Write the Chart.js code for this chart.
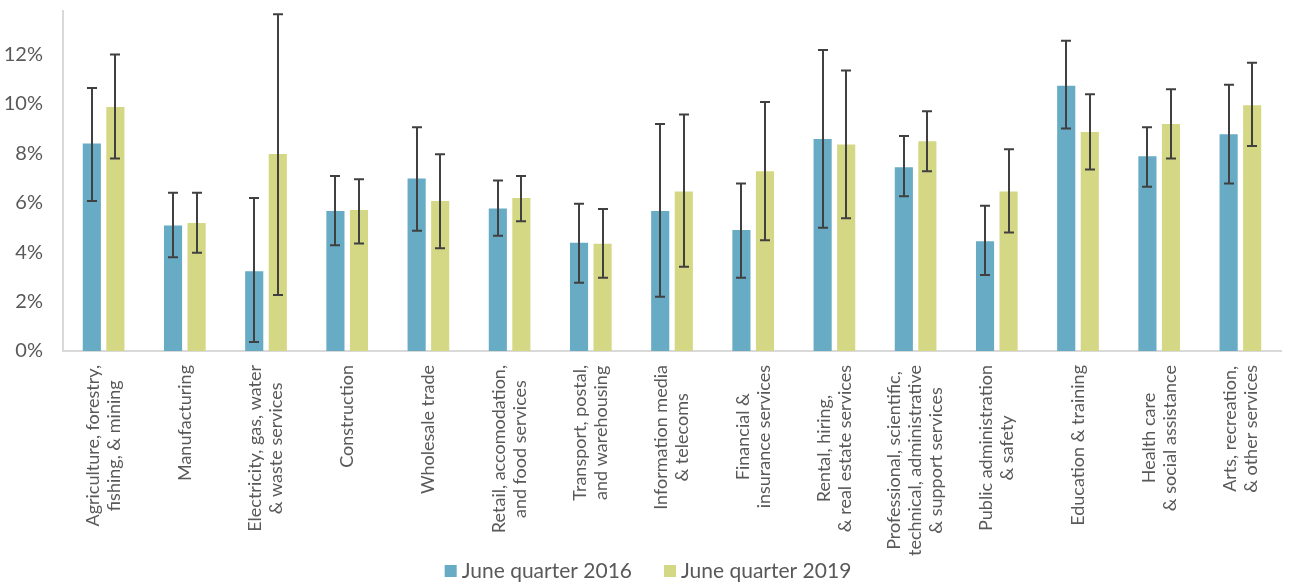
<!DOCTYPE html>
<html>
<head>
<meta charset="utf-8">
<script src="https://cdn.jsdelivr.net/npm/chart.js@4.4.1/dist/chart.umd.min.js"></script>
<style>
  html, body { margin: 0; padding: 0; background: #ffffff; }
  #c { display: block; }
</style>
</head>
<body>
<canvas id="c" width="1290" height="583"></canvas>
<script>
// ---- Data ----
const categories = [
  ["Agriculture, forestry,", "fishing, & mining"],
  ["Manufacturing"],
  ["Electricity, gas, water", "& waste services"],
  ["Construction"],
  ["Wholesale trade"],
  ["Retail, accomodation,", "and food services"],
  ["Transport, postal,", "and warehousing"],
  ["Information media", "& telecoms"],
  ["Financial &", "insurance services"],
  ["Rental, hiring,", "& real estate services"],
  ["Professional, scientific,", "technical, administrative", "& support services"],
  ["Public administration", "& safety"],
  ["Education & training"],
  ["Health care", "& social assistance"],
  ["Arts, recreation,", "& other services"]
];
const seriesNames = ["June quarter 2016", "June quarter 2019"];
const values2016 = [8.39, 5.08, 3.23, 5.66, 6.98, 5.76, 4.38, 5.66, 4.89, 8.57, 7.43, 4.44, 10.73, 7.88, 8.77];
const high2016   = [10.64, 6.40, 6.19, 7.08, 9.05, 6.90, 5.95, 9.18, 6.77, 12.17, 8.69, 5.87, 12.55, 9.05, 10.77];
const low2016    = [6.07, 3.79, 0.36, 4.28, 4.86, 4.66, 2.76, 2.19, 2.96, 4.98, 6.26, 3.07, 9.00, 6.64, 6.77];
const values2019 = [9.87, 5.18, 7.97, 5.70, 6.07, 6.19, 4.34, 6.45, 7.27, 8.35, 8.48, 6.45, 8.86, 9.18, 9.94];
const high2019   = [11.99, 6.40, 13.62, 6.95, 7.96, 7.08, 5.74, 9.56, 10.07, 11.34, 9.70, 8.16, 10.38, 10.59, 11.66];
const low2019    = [7.78, 3.97, 2.26, 4.35, 4.16, 5.25, 2.96, 3.41, 4.48, 5.37, 7.27, 4.79, 7.34, 7.78, 8.29];
const yTickStep = 2;
const yMax = 13.75;

// ---- Styles ----
const colors = ["#67abc4", "#d4d784"];
const FONT = "Lato, 'Open Sans', sans-serif";
const textColor = "#595959";

const errorBars = [
  { high: high2016, low: low2016 },
  { high: high2019, low: low2019 }
];

const errorBarPlugin = {
  id: "errorBars",
  afterDatasetsDraw(chart) {
    const ctx = chart.ctx;
    const y = chart.scales.y;
    ctx.save();
    ctx.strokeStyle = "#404040";
    ctx.lineWidth = 2;
    errorBars.forEach((eb, d) => {
      const meta = chart.getDatasetMeta(d);
      meta.data.forEach((el, i) => {
        const x = Math.round(el.x);
        const yh = y.getPixelForValue(eb.high[i]);
        const yl = y.getPixelForValue(eb.low[i]);
        ctx.beginPath();
        ctx.moveTo(x, yh); ctx.lineTo(x, yl);
        ctx.moveTo(x - 5, yh); ctx.lineTo(x + 5, yh);
        ctx.moveTo(x - 5, yl); ctx.lineTo(x + 5, yl);
        ctx.stroke();
      });
    });
    ctx.restore();
  }
};

const categoryLabelPlugin = {
  id: "categoryLabels",
  afterDraw(chart) {
    const ctx = chart.ctx;
    const xs = chart.scales.x;
    const top = chart.chartArea.bottom + 14;
    const lineH = 21;
    ctx.save();
    ctx.font = "18px " + FONT;
    ctx.fillStyle = textColor;
    ctx.textAlign = "center";
    ctx.textBaseline = "middle";
    categories.forEach((lines, i) => {
      const cx = xs.getPixelForValue(i);
      const maxW = Math.max(...lines.map(l => ctx.measureText(l).width));
      ctx.save();
      ctx.translate(cx, top);
      ctx.rotate(-Math.PI / 2);
      lines.forEach((l, k) => {
        ctx.fillText(l, -maxW / 2, (k - (lines.length - 1) / 2) * lineH);
      });
      ctx.restore();
    });
    ctx.restore();
  }
};

const legendPlugin = {
  id: "customLegend",
  afterDraw(chart) {
    const ctx = chart.ctx;
    ctx.save();
    ctx.font = "21px " + FONT;
    const box = 12, gap = 5, between = 32;
    const widths = seriesNames.map(n => ctx.measureText(n).width);
    const total = widths.reduce((a, w) => a + box + gap + w, 0) + between * (seriesNames.length - 1);
    let x = chart.width / 2 + 3 - total / 2;
    const cy = 571;
    ctx.textBaseline = "middle";
    ctx.textAlign = "left";
    seriesNames.forEach((n, i) => {
      ctx.fillStyle = colors[i];
      ctx.fillRect(x, cy - box / 2, box, box);
      x += box + gap;
      ctx.fillStyle = textColor;
      ctx.fillText(n, x, cy);
      x += widths[i] + between;
    });
    ctx.restore();
  }
};

new Chart(document.getElementById("c"), {
  type: "bar",
  data: {
    labels: categories.map(c => c.join(" ")),
    datasets: [
      { label: seriesNames[0], data: values2016, backgroundColor: colors[0],
        categoryPercentage: 0.58, barPercentage: 0.77 },
      { label: seriesNames[1], data: values2019, backgroundColor: colors[1],
        categoryPercentage: 0.58, barPercentage: 0.77 }
    ]
  },
  options: {
    responsive: false,
    animation: false,
    devicePixelRatio: 1,
    layout: { padding: { top: 11, right: 9, left: 0, bottom: 0 } },
    plugins: { legend: { display: false }, tooltip: { enabled: false } },
    scales: {
      x: {
        ticks: { display: false },
        grid: { display: false, drawTicks: false },
        border: { display: true, color: "#d9d9d9", width: 2 },
        afterFit(s) { s.height = 232; s.paddingLeft = 0; s.paddingRight = 0; }
      },
      y: {
        min: 0,
        max: yMax,
        ticks: {
          stepSize: yTickStep,
          includeBounds: false,
          padding: 20,
          color: textColor,
          font: { family: FONT, size: 20 },
          callback: v => v + "%"
        },
        grid: { display: false, drawTicks: false },
        border: { display: true, color: "#d9d9d9", width: 2 },
        afterFit(s) { s.width = 63; s.paddingTop = 0; s.paddingBottom = 0; }
      }
    }
  },
  plugins: [errorBarPlugin, categoryLabelPlugin, legendPlugin]
});
</script>
</body>
</html>
